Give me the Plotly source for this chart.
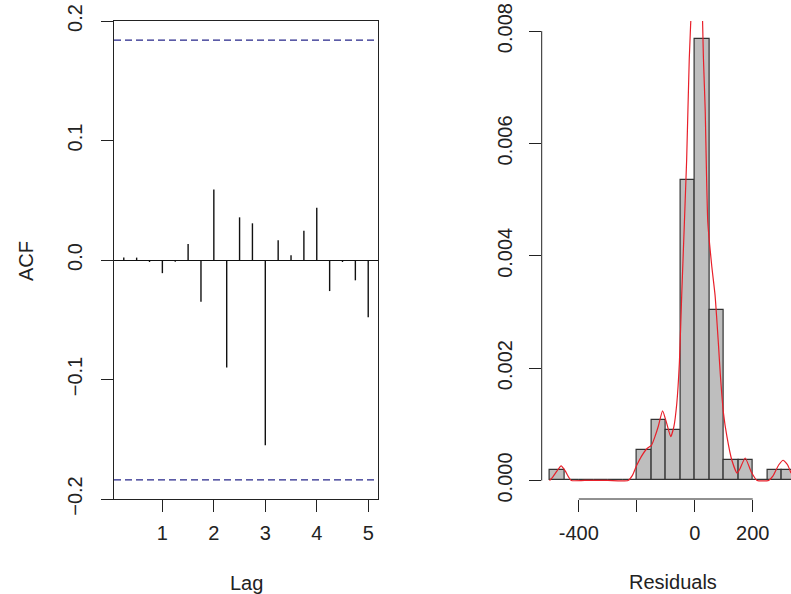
import plotly.graph_objects as go

# ---------------- data ----------------
# ACF of residuals (quarterly lags, lag 0 omitted)
lags = [0.25, 0.5, 0.75, 1.0, 1.25, 1.5, 1.75, 2.0, 2.25, 2.5,
        2.75, 3.0, 3.25, 3.5, 3.75, 4.0, 4.25, 4.5, 4.75, 5.0]
acf_vals = [0.002, 0.002, -0.0017, -0.011, -0.0015, 0.0134, -0.035, 0.059, -0.090, 0.0357,
            0.0307, -0.155, 0.0165, 0.0039, 0.0245, 0.0438, -0.026, -0.0017, -0.017, -0.048]
ci = 0.184

acf_yticks = [-0.2, -0.1, 0.0, 0.1, 0.2]
lag_ticks = [1, 2, 3, 4, 5]

# Histogram of residuals (bin width 50)
bin_left = [-500, -450, -400, -350, -300, -250, -200, -150, -100, -50,
            0, 50, 100, 150, 200, 250, 300]
counts = [1, 0, 0, 0, 0, 0, 3, 6, 5, 30, 44, 17, 2, 2, 0, 1, 1]
bin_width = 50

# Kernel density curve
dens_x = [-501, -490, -475, -461, -447, -435, -426, -380, -300, -230,
          -215, -201, -185, -166, -149, -136, -126, -111, -97, -83,
          -72, -62, -53, -45, -28, -19, -9, 8, 24, 30,
          36, 45, 59, 70, 82, 88, 99, 111, 128, 146,
          155, 174, 195, 215, 255, 270, 290, 305, 320, 332]
dens_y = [0.0, 0.00006, 0.00017, 0.00026, 0.00017, 0.00006, 0.0, 0.0, 0.0, 0.0,
          0.00009, 0.00026, 0.00042, 0.00056, 0.00063, 0.0008, 0.00096, 0.00124, 0.00102, 0.00078,
          0.00096, 0.00137, 0.0021, 0.0033, 0.0057, 0.0075, 0.0087, 0.0098, 0.0087, 0.0075,
          0.0066, 0.0046, 0.0038, 0.0033, 0.0024, 0.0019, 0.0012, 0.00078, 0.00036, 0.00013,
          0.0002, 0.0004, 0.00015, 0.0, 0.0, 0.00008, 0.00028, 0.00036, 0.00028, 0.00013]

hist_yticks = [0.0, 0.002, 0.004, 0.006, 0.008]
hist_xticks = [-400, -200, 0, 200]
hist_xticktext = ["-400", "", "0", "200"]

# ---------------- derived ----------------
n_obs = sum(counts)
density = [c / (n_obs * bin_width) for c in counts]
centers = [b + bin_width / 2 for b in bin_left]

spike_x, spike_y = [], []
for l, v in zip(lags, acf_vals):
    spike_x += [l, l, None]
    spike_y += [0, v, None]

W, H = 791, 594
FONT = "Liberation Sans, Arial, Helvetica, sans-serif"
TXT = "#222222"
FS = 20

fig = go.Figure()

fig.add_trace(go.Scatter(x=spike_x, y=spike_y, mode="lines",
                         line=dict(color="#111111", width=1.4),
                         xaxis="x", yaxis="y", showlegend=False, hoverinfo="skip"))

fig.add_trace(go.Bar(x=centers, y=density, width=bin_width,
                     marker=dict(color="#BEBEBE", line=dict(color="#333333", width=1.2)),
                     xaxis="x2", yaxis="y2", showlegend=False))

fig.add_trace(go.Scatter(x=dens_x, y=dens_y, mode="lines",
                         line=dict(color="#E8202A", width=1.2, shape="spline", smoothing=0.5),
                         xaxis="x2", yaxis="y2", showlegend=False, hoverinfo="skip"))

y_dom = [(H - 499) / H, (H - 21) / H]

common_tick = dict(ticks="outside", ticklen=12, tickwidth=1, tickcolor="#222222",
                   tickfont=dict(family=FONT, size=FS, color=TXT), showgrid=False,
                   automargin=False)

fig.update_layout(
    width=W, height=H,
    margin=dict(l=0, r=0, t=0, b=0, autoexpand=False),
    paper_bgcolor="white", plot_bgcolor="white",
    bargap=0,
    xaxis=dict(domain=[114 / W, 378 / W], range=[0.06, 5.19],
               tickvals=lag_ticks, showline=True, mirror=True, linecolor="#222222",
               linewidth=1, zeroline=False, ticklabelstandoff=4, **common_tick),
    yaxis=dict(domain=y_dom, range=[-0.2, 0.2], tickvals=acf_yticks, tickformat=".1f",
               tickangle=-90, showline=True, mirror=True, linecolor="#222222",
               linewidth=1, zeroline=True, zerolinecolor="#111111", zerolinewidth=1,
               ticklabelstandoff=11, **common_tick),
    xaxis2=dict(domain=[541.7 / W, 1.0], range=[-528, 332], anchor="y2",
                tickvals=hist_xticks, ticktext=hist_xticktext, showline=False,
                zeroline=False, ticklabelstandoff=4, **common_tick),
    yaxis2=dict(domain=y_dom, range=[-0.00033, 0.00818], anchor="x2",
                tickvals=hist_yticks, tickformat=".3f", tickangle=-90,
                showline=False, zeroline=False, ticklabelstandoff=9, **common_tick),
)

# dashed confidence bounds
for v in (ci, -ci):
    fig.add_shape(type="line", xref="x domain", x0=0, x1=1, yref="y", y0=v, y1=v,
                  line=dict(color="#26268a", width=1.2, dash="7px,4px"))

# R-style partial axis lines on histogram
fig.add_shape(type="line", xref="x2 domain", x0=0, x1=0, yref="y2",
              y0=hist_yticks[0], y1=hist_yticks[-1], line=dict(color="#222222", width=1))
fig.add_shape(type="line", xref="x2", x0=hist_xticks[0], x1=hist_xticks[-1],
              yref="y2 domain", y0=0, y1=0, line=dict(color="#222222", width=1))

ann_font = dict(family=FONT, size=FS, color=TXT)
ann_common = dict(xref="paper", yref="paper", showarrow=False, font=ann_font,
                  xanchor="center", yanchor="middle")
fig.add_annotation(text="ACF", x=26 / W, y=(H - 261) / H, textangle=-90, **ann_common)
fig.add_annotation(text="Lag", x=246.5 / W, y=(H - 583) / H, **ann_common)
fig.add_annotation(text="Residuals", x=672.7 / W, y=(H - 582) / H, **ann_common)

fig.write_html("out.html", config={"displayModeBar": False},
               post_script="document.body.style.margin='0px';document.body.style.overflow='hidden';")
